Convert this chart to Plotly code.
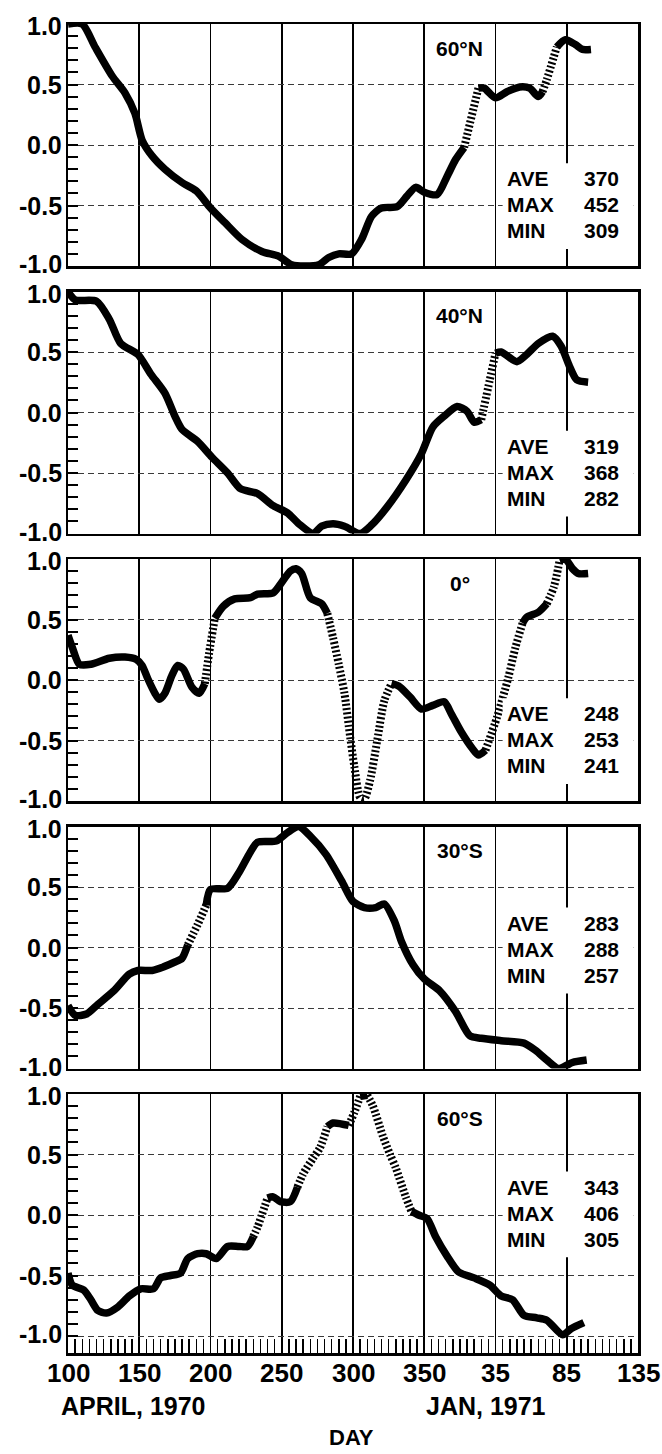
import plotly.graph_objects as go

# ---------------- data ----------------
DAY_TICKS = [100, 150, 200, 250, 300, 350, 400, 450, 500]
DAY_TICK_LABELS = ["100", "150", "200", "250", "300", "350", "35", "85", "135"]
Y_TICKS = [-1.0, -0.5, 0.0, 0.5, 1.0]
Y_TICK_LABELS = ["-1.0", "-0.5", "0.0", "0.5", "1.0"]

LATITUDES = ["60°N", "40°N", "0°", "30°S", "60°S"]
AVE = [370, 319, 248, 283, 343]
MAX = [452, 368, 253, 288, 406]
MIN = [309, 282, 241, 257, 305]

days_60n = [100, 110, 119, 131, 140, 147, 152, 159, 168, 180, 190, 200, 210, 222, 236, 248, 257,
            266, 276, 283, 290, 299, 306, 313, 320, 331, 338, 344, 350, 359, 366, 372, 378, 388,
            392, 400, 408, 417, 424, 430, 433, 436, 443, 449, 456, 461, 467]
vals_60n = [1.0, 1.0, 0.81, 0.57, 0.43, 0.26, 0.04, -0.09, -0.20, -0.31, -0.38, -0.52, -0.64,
            -0.78, -0.88, -0.92, -0.99, -1.0, -0.99, -0.93, -0.90, -0.90, -0.78, -0.59, -0.52,
            -0.51, -0.42, -0.35, -0.39, -0.41, -0.26, -0.12, -0.02, 0.47, 0.47, 0.39, 0.44,
            0.48, 0.47, 0.40, 0.44, 0.54, 0.81, 0.87, 0.83, 0.79, 0.79]
dotted_60n = [(378, 388), (433, 443)]

days_40n = [100, 105, 120, 129, 137, 149, 158, 168, 175, 180, 191, 201, 212, 221, 233, 244, 254,
            262, 272, 278, 286, 294, 305, 313, 324, 337, 348, 356, 364, 373, 380, 385, 390, 396,
            400, 404, 415, 422, 430, 440, 446, 452, 457, 465]
vals_40n = [1.0, 0.93, 0.92, 0.77, 0.57, 0.48, 0.32, 0.16, -0.03, -0.14, -0.24, -0.37, -0.50,
            -0.63, -0.67, -0.77, -0.83, -0.92, -1.0, -0.94, -0.92, -0.94, -1.0, -0.93, -0.78,
            -0.56, -0.34, -0.12, -0.03, 0.05, 0.01, -0.08, -0.06, 0.27, 0.49, 0.50, 0.42, 0.48,
            0.57, 0.63, 0.55, 0.38, 0.27, 0.25]
dotted_40n = [(390, 400)]

days_eq = [100, 103, 108, 116, 129, 140, 148, 152, 156, 161, 164, 168, 173, 177, 181, 187, 192,
           196, 199, 203, 209, 217, 228, 233, 244, 249, 256, 260, 264, 270, 278, 282, 286, 290,
           294, 298, 301, 305, 308, 312, 317, 322, 327, 332, 340, 348, 356, 364, 369, 376, 384,
           388, 393, 401, 409, 414, 419, 422, 430, 436, 441, 445, 449, 454, 458, 465]
vals_eq = [0.37, 0.27, 0.13, 0.13, 0.18, 0.19, 0.17, 0.12, 0.01, -0.11, -0.16, -0.11, 0.04, 0.12,
           0.09, -0.06, -0.11, -0.03, 0.22, 0.51, 0.61, 0.67, 0.68, 0.71, 0.72, 0.79, 0.90, 0.92,
           0.88, 0.68, 0.63, 0.55, 0.35, 0.13, -0.11, -0.47, -0.72, -0.97, -0.98, -0.83, -0.50,
           -0.17, -0.03, -0.05, -0.14, -0.24, -0.21, -0.18, -0.28, -0.43, -0.57, -0.62, -0.58,
           -0.31, 0.02, 0.27, 0.47, 0.52, 0.56, 0.63, 0.77, 0.99, 1.0, 0.92, 0.88, 0.88]
dotted_eq = [(196, 203), (282, 327), (393, 419), (436, 445)]

days_30s = [100, 105, 113, 121, 132, 143, 149, 159, 167, 175, 180, 184, 191, 197, 200, 212, 220,
            228, 233, 246, 254, 262, 270, 281, 292, 300, 308, 316, 322, 329, 334, 342, 350, 361,
            372, 382, 390, 404, 420, 428, 436, 444, 449, 454, 464]
vals_30s = [-0.48, -0.56, -0.55, -0.47, -0.36, -0.22, -0.19, -0.19, -0.16, -0.12, -0.09, 0.02,
            0.19, 0.35, 0.48, 0.49, 0.62, 0.79, 0.87, 0.88, 0.95, 1.0, 0.92, 0.77, 0.55, 0.38,
            0.33, 0.33, 0.36, 0.22, 0.05, -0.14, -0.26, -0.36, -0.53, -0.73, -0.75, -0.77, -0.79,
            -0.85, -0.93, -1.0, -0.98, -0.95, -0.93]
dotted_30s = [(184, 197)]

days_60s = [100, 103, 111, 116, 121, 127, 135, 143, 151, 160, 165, 172, 179, 184, 191, 197, 204,
            212, 220, 226, 230, 233, 240, 244, 249, 256, 261, 265, 272, 277, 282, 286, 297, 301,
            305, 310, 314, 321, 326, 330, 337, 341, 346, 352, 358, 366, 374, 385, 396, 404, 412,
            420, 429, 436, 447, 453, 462]
vals_60s = [-0.48, -0.58, -0.62, -0.70, -0.79, -0.81, -0.76, -0.67, -0.61, -0.61, -0.52, -0.50,
            -0.48, -0.36, -0.32, -0.32, -0.36, -0.26, -0.26, -0.26, -0.18, -0.10, 0.14, 0.15,
            0.11, 0.11, 0.23, 0.34, 0.47, 0.56, 0.73, 0.76, 0.74, 0.85, 0.98, 0.99, 0.90, 0.65,
            0.50, 0.39, 0.15, 0.03, 0.00, -0.03, -0.18, -0.34, -0.47, -0.52, -0.58, -0.67, -0.70,
            -0.83, -0.85, -0.87, -0.99, -0.94, -0.89]
dotted_60s = [(230, 240), (261, 282), (297, 305), (310, 341)]

SERIES = [
    (days_60n, vals_60n, dotted_60n),
    (days_40n, vals_40n, dotted_40n),
    (days_eq, vals_eq, dotted_eq),
    (days_30s, vals_30s, dotted_30s),
    (days_60s, vals_60s, dotted_60s),
]

# ---------------- layout geometry (pixels) ----------------
W, H = 662, 1454
PLOT_TOP, PLOT_BOTTOM = 24, 1353
PLOT_H = PLOT_BOTTOM - PLOT_TOP
PANEL_H = 242
PANEL_STEP = 267.5
LAST_EXTRA = 17  # strip under last panel for day ticks

FONT = "Liberation Sans, Arial, Helvetica, sans-serif"

# stats block vertical position (value of first row) per panel
STAT_Y0 = [-0.28, -0.28, -0.28, 0.20, 0.23]
STAT_DY = 0.215


def split_segments(days, vals, dotted):
    def is_dot(a, b):
        return any(lo <= a and b <= hi for lo, hi in dotted)
    segs = []
    cur_style, cur_x, cur_y = None, [], []
    for k in range(len(days) - 1):
        st = is_dot(days[k], days[k + 1])
        if st != cur_style:
            if cur_x:
                segs.append((cur_style, cur_x, cur_y))
            cur_style, cur_x, cur_y = st, [days[k]], [vals[k]]
        cur_x.append(days[k + 1])
        cur_y.append(vals[k + 1])
    if cur_x:
        segs.append((cur_style, cur_x, cur_y))
    return segs


def bold(size):
    return dict(family=FONT, size=size, color="black", weight="bold")


def paper_y(px):
    return (PLOT_BOTTOM - px) / PLOT_H


fig = go.Figure()
layout = dict(
    width=W, height=H,
    margin=dict(l=68, r=24, t=PLOT_TOP, b=H - PLOT_BOTTOM, pad=0),
    paper_bgcolor="white", plot_bgcolor="white",
    showlegend=False,
    font=bold(20),
)
shapes = []
annotations = []

for i, (dx, dy, dots) in enumerate(SERIES):
    n = i + 1
    xa, ya = f"x{n}", f"y{n}"
    for dotted, sx, sy in split_segments(dx, dy, dots):
        fig.add_trace(go.Scatter(
            x=sx, y=sy, mode="lines", xaxis=xa, yaxis=ya, hoverinfo="skip",
            line=dict(color="black", width=7.5 if not dotted else 8,
                      shape="spline", smoothing=0.7,
                      dash="2px,2.2px" if dotted else "solid"),
        ))

    top_px = PLOT_TOP + PANEL_STEP * i
    bot_px = top_px + PANEL_H + (LAST_EXTRA if i == 4 else 0)
    dom = [paper_y(bot_px), paper_y(top_px)]
    ymin = -1.0 - (2.0 * LAST_EXTRA / PANEL_H if i == 4 else 0.0)
    last = i == 4

    xaxis = dict(
        domain=[0, 1], range=[100, 500], anchor=ya,
        tickmode="array", tickvals=DAY_TICKS,
        showticklabels=False, showgrid=True, gridcolor="black", gridwidth=1.7,
        showline=True, mirror=True, linecolor="black", linewidth=2.5,
        zeroline=False, fixedrange=True,
    )
    if last:
        xaxis.update(ticks="inside", ticklen=15, tickwidth=1.5, tickcolor="black",
                     minor=dict(dtick=5, tick0=100, ticks="inside", ticklen=14,
                                tickwidth=1.5, tickcolor="black", showgrid=False))
    else:
        xaxis.update(ticks="")
    if n > 1:
        xaxis["matches"] = "x"

    yaxis = dict(
        domain=dom, range=[ymin, 1.0], anchor=xa,
        tickmode="array", tickvals=Y_TICKS, showticklabels=False,
        ticks="inside", ticklen=10, tickwidth=2, tickcolor="black",
        minor=dict(tickmode="array",
                   tickvals=[round(-0.9 + 0.1 * k, 1) for k in range(19)],
                   ticks="inside", ticklen=10, tickwidth=2, tickcolor="black",
                   showgrid=False),
        showgrid=True, gridcolor="#3a3a3a", gridwidth=1, griddash="6px,4px",
        showline=True, mirror=True, linecolor="black", linewidth=2.5,
        zeroline=False, fixedrange=True,
    )
    layout[f"xaxis{'' if n == 1 else n}"] = xaxis
    layout[f"yaxis{'' if n == 1 else n}"] = yaxis

    # y tick labels (as text next to the axis; edge labels nudged apart)
    for tv, tt in zip(Y_TICKS, Y_TICK_LABELS):
        shift = 0
        if tv == 1.0:
            shift = -2
        elif tv == -1.0:
            shift = 2
        annotations.append(dict(x=0, xref="paper", xanchor="right", xshift=-4,
                                y=tv, yref=ya, yanchor="middle", yshift=shift,
                                text=tt, showarrow=False, font=bold(25)))

    # white box behind the statistics text
    y0 = STAT_Y0[i]
    shapes.append(dict(type="rect", xref=xa, yref=ya, x0=405, x1=497,
                       y0=y0 - 2 * STAT_DY - 0.15, y1=y0 + 0.13,
                       fillcolor="white", line=dict(width=0), layer="above"))

    annotations.append(dict(x=375, y=0.80, xref=xa, yref=ya, text=LATITUDES[i],
                            showarrow=False, xanchor="center", yanchor="middle",
                            font=bold(21)))
    for r, (lab, val) in enumerate([("AVE", AVE[i]), ("MAX", MAX[i]), ("MIN", MIN[i])]):
        yy = y0 - r * STAT_DY
        annotations.append(dict(x=407, y=yy, xref=xa, yref=ya, text=lab, showarrow=False,
                                xanchor="left", yanchor="middle", font=bold(21)))
        annotations.append(dict(x=488, y=yy, xref=xa, yref=ya, text=str(val), showarrow=False,
                                xanchor="right", yanchor="middle", font=bold(21)))

# day tick labels under the bottom panel
for tv, tt in zip(DAY_TICKS, DAY_TICK_LABELS):
    annotations.append(dict(x=tv, xref="x5", y=paper_y(PLOT_BOTTOM + 4), yref="paper",
                            xanchor="center", yanchor="top", borderpad=0,
                            text=tt, showarrow=False, font=bold(26)))

# bottom captions
for txt, xd, ypx, fs in [("APRIL, 1970", 146, 1406, 25), ("JAN, 1971", 393, 1406, 25),
                         ("DAY", 299, 1437, 22)]:
    annotations.append(dict(x=xd, y=paper_y(ypx), xref="x5", yref="paper", borderpad=0,
                            text=txt, showarrow=False, xanchor="center", yanchor="middle",
                            font=bold(fs)))

layout["shapes"] = shapes
layout["annotations"] = annotations
fig.update_layout(**layout)
fig.write_html("out.html",
               config={"displayModeBar": False, "staticPlot": True},
               post_script="document.body.style.margin='0px';"
                           "document.body.style.overflow='hidden';")
